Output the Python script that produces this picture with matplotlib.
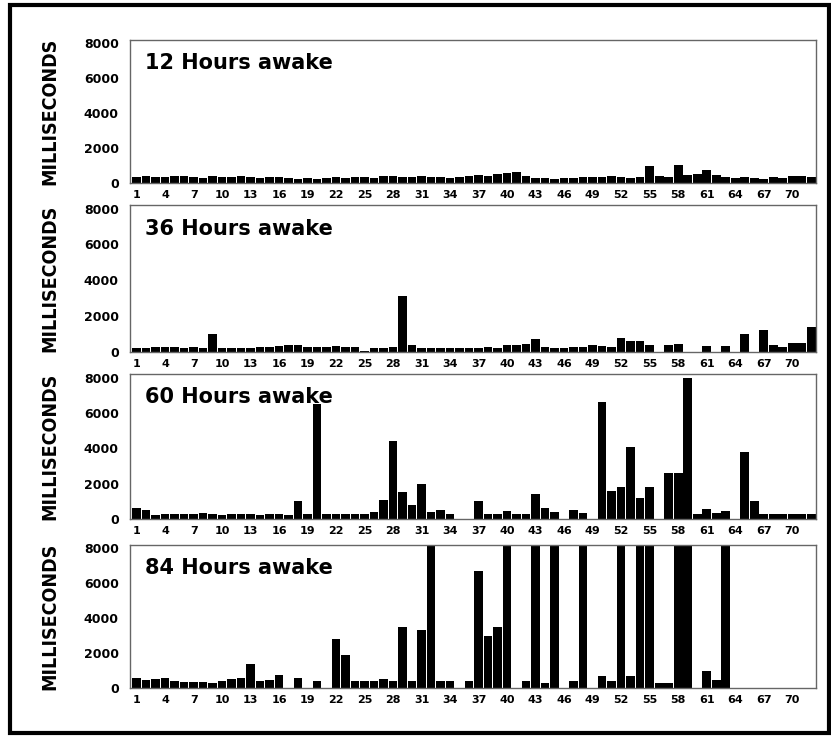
import matplotlib
matplotlib.use("Agg")
import matplotlib.pyplot as plt
from matplotlib.patches import Rectangle

CLIP = 9000  # bars that run off the top of the panel

positions = list(range(1, 73))
tick_positions = list(range(1, 71, 3))
tick_labels = [str(t) for t in tick_positions]
y_ticks = [0, 2000, 4000, 6000, 8000]
y_tick_labels = ["0", "2000", "4000", "6000", "8000"]

titles = ["12 Hours awake", "36 Hours awake", "60 Hours awake", "84 Hours awake"]

hours_12 = [350, 400, 350, 350, 400, 400, 350, 300, 400, 350,
            350, 400, 350, 300, 350, 350, 300, 250, 300, 250,
            300, 350, 300, 350, 350, 300, 400, 400, 350, 350,
            400, 350, 350, 300, 350, 400, 450, 400, 500, 600,
            650, 400, 300, 300, 250, 300, 300, 350, 350, 350,
            400, 350, 300, 350, 1000, 400, 350, 1050, 450, 500,
            750, 450, 350, 300, 350, 300, 250, 350, 300, 400,
            400, 350]

hours_36 = [250, 250, 300, 300, 300, 250, 300, 200, 1000, 250,
            200, 250, 250, 300, 300, 350, 400, 400, 300, 300,
            300, 350, 300, 300, 60, 200, 250, 300, 3100, 400,
            250, 250, 250, 250, 250, 250, 250, 300, 250, 400,
            400, 450, 750, 300, 250, 250, 300, 300, 400, 350,
            300, 800, 600, 600, 400, 0, 400, 450, 0, 0,
            330, 0, 330, 0, 1000, 0, 1250, 400, 300, 500,
            500, 1400]

hours_60 = [600, 500, 250, 300, 300, 300, 300, 350, 300, 250,
            300, 300, 300, 250, 300, 300, 250, 1000, 300, 6500,
            300, 300, 300, 300, 300, 400, 1100, 4400, 1500, 800,
            2000, 400, 500, 300, 0, 0, 1000, 300, 300, 450,
            300, 300, 1400, 650, 400, 0, 500, 350, 0, 6600,
            1600, 1800, 4100, 1200, 1800, 0, 2600, 2600, 8000, 300,
            550, 350, 450, 0, 3800, 1000, 300, 300, 300, 300,
            300, 300]

hours_84 = [600, 450, 500, 550, 400, 350, 350, 350, 300, 400,
            500, 550, 1400, 400, 450, 750, 0, 550, 0, 400,
            0, 2800, 1900, 400, 400, 400, 500, 400, 3500, 400,
            3300, CLIP, 400, 400, 0, 400, 6700, 3000, 3500, CLIP,
            0, 400, CLIP, 300, CLIP, 0, 400, CLIP, 0, 700,
            400, CLIP, 700, CLIP, CLIP, 300, 300, CLIP, CLIP, 0,
            1000, 450, CLIP, 0, 0, 0, 0, 0, 0, 0,
            0, 0]

series = [hours_12, hours_36, hours_60, hours_84]

W, H = 831, 736
# top / bottom of each panel in pixels
panel_rows = [(40, 183), (205, 352), (374, 519), (545, 688)]
left_px, right_px = 130, 816

fig = plt.figure(figsize=(W / 100, H / 100), dpi=100)

for (top, bottom), title, values in zip(panel_rows, titles, series):
    ax = fig.add_axes([left_px / W, 1 - bottom / H,
                       (right_px - left_px) / W, (bottom - top) / H])
    ax.bar(positions, values, width=0.9, color="black")
    ax.set_xlim(0.3, 72.5)
    ax.set_ylim(0, 8200)

    ax.set_xticks(tick_positions)
    ax.set_xticklabels(tick_labels, fontsize=8, fontweight="bold")
    ax.set_yticks(y_ticks)
    ax.set_yticklabels(y_tick_labels, fontsize=9, fontweight="bold")
    ax.tick_params(axis="x", length=0, pad=5)
    ax.tick_params(axis="y", length=0, pad=8)

    for spine in ax.spines.values():
        spine.set_color("#666666")
        spine.set_linewidth(1)

    ax.text(0.022, 0.84, title, transform=ax.transAxes, fontsize=15,
            fontweight="bold", va="center", ha="left")
    ax.text(-0.117, 0.5, "MILLISECONDS", transform=ax.transAxes,
            rotation=90, ha="center", va="center", fontsize=14,
            fontweight="bold", fontstretch="condensed")

# thick border round the whole figure
frame = Rectangle((10 / W, 3 / H), (829 - 10) / W, (731 - 3) / H,
                  transform=fig.transFigure, fill=False,
                  edgecolor="black", linewidth=3)
fig.add_artist(frame)

fig.savefig("out.png", dpi=100)
